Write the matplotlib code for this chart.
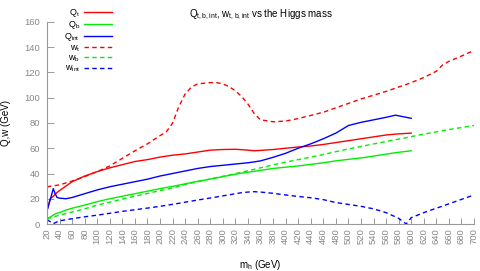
import numpy as np
import matplotlib
matplotlib.use("Agg")
import matplotlib.pyplot as plt

plt.rcParams['font.family'] = ['Liberation Sans', 'DejaVu Sans']
plt.rcParams['mathtext.default'] = 'regular'

# Higgs mass points (GeV) for the Q curves (stop at 600)
mh_q = [20, 25, 30, 33, 36, 40, 50, 60, 80, 100, 120, 140, 160, 180, 200, 220, 240, 260, 280,
        300, 320, 340, 350, 360, 380, 400, 420, 440, 460, 480, 500, 520, 540, 560, 575, 600]
q_t = [10.5, 20, 22, 23.5, 25, 26.5, 30, 33.5, 38, 41.5, 44.5, 47, 49.5, 51, 53, 54.5, 55.5, 57, 58.5,
       59, 59.2, 58.5, 58, 58.3, 59, 60, 61, 61.8, 63, 64.5, 66, 67.5, 69, 70.5, 71.2, 72]
q_b = [4, 5.5, 7, 8, 8.5, 9, 11, 12.5, 15, 17.7, 20, 22, 24, 26, 28, 29.8, 31.8, 33.8, 35.6,
       37.5, 39.5, 41, 41.7, 42.5, 44, 45, 46, 47.2, 48.5, 50, 51.2, 52.3, 53.8, 55.3, 56.5, 58]
q_int = [10.5, 19, 28, 24, 21, 20.5, 20, 21, 24, 27, 29.5, 31.5, 33.5, 35.5, 38, 40, 42, 44, 45.5,
         46.5, 47.5, 48.5, 49.2, 50, 52.8, 56, 60, 63.5, 67.5, 72, 78, 80.5, 82.5, 84.5, 86.2, 83.7]

# Higgs mass points (GeV) for the w curves (run to 700)
mh_w = [20, 30, 40, 60, 80, 100, 120, 140, 160, 180, 200, 210, 220, 230, 240, 250, 260, 280, 290,
        300, 310, 320, 330, 340, 350, 360, 380, 400, 420, 440, 460, 480, 500, 520, 540, 560, 580,
        592, 600, 620, 640, 650, 660, 680, 700]
w_t = [29.5, 30.2, 31, 34, 37.5, 41.5, 46, 52, 58, 63.5, 70, 73, 80, 93, 103, 108.5, 111, 112, 112,
       111, 108.8, 105.5, 101, 95, 87.5, 82.5, 81, 81.5, 83.5, 86, 88.5, 92, 95.5, 99, 102, 105, 108.5,
       110.5, 112, 116, 121, 126, 128.8, 133, 137.5]
w_b = [4, 5.5, 7, 9.5, 12, 15, 17.3, 19.7, 22, 24.2, 26.5, 27.5, 28.5, 29.8, 31.3, 32.4, 33.5, 35.7, 36.8,
       37.8, 38.8, 39.9, 41, 42.2, 43.3, 44.5, 46.8, 49, 51, 53, 55, 57.3, 59.4, 61.4, 63.4, 65.3, 67.3,
       68.4, 69.2, 71.2, 73, 73.9, 74.8, 76.4, 78]
w_int = [3.5, 0.3, 2.5, 4.2, 5.7, 7, 8.5, 10, 11.3, 12.6, 14, 14.8, 15.6, 16.4, 17.3, 18.1, 19, 20.6, 21.4,
         22.3, 23.1, 24, 24.8, 25.3, 25.6, 25.3, 24.3, 23, 21.8, 20.8, 19.3, 17, 15.5, 14, 12, 9, 4.5,
         0, 5, 9, 12.5, 14.2, 16, 19.5, 23]

xticks = np.arange(20, 701, 20)
yticks = np.arange(0, 161, 20)

fig = plt.figure(figsize=(4.81, 2.71), dpi=100)
ax = fig.add_axes([47 / 481, 1 - 224 / 271, 427 / 481, 202 / 271])

dash = (0, (3.2, 2.4))
ax.plot(mh_q, q_t, color='#ff0000', lw=1.0, label='$Q_t$')
ax.plot(mh_q, q_b, color='#00ee00', lw=1.0, label='$Q_b$')
ax.plot(mh_q, q_int, color='#0000ff', lw=1.0, label='$Q_{int}$')
ax.plot(mh_w, w_t, color='#ff0000', lw=1.0, ls=dash, label='$w_t$')
ax.plot(mh_w, w_b, color='#00ee00', lw=1.0, ls=dash, label='$w_b$')
ax.plot(mh_w, w_int, color='#0000ff', lw=1.0, ls=dash, label='$w_{int}$')

ax.set_xlim(20, 700)
ax.set_ylim(0, 160)
ax.set_xticks(xticks)
ax.set_yticks(yticks)
ax.tick_params(axis='x', direction='in', length=4, width=0.7, color='#999999',
               labelcolor='#888888', labelsize=6.8, labelrotation=90, pad=3)
ax.tick_params(axis='y', direction='in', length=5, width=0.7, color='#999999',
               labelcolor='#888888', labelsize=6.8, pad=5)

for side in ['top', 'right']:
    ax.spines[side].set_visible(False)
for side in ['left', 'bottom']:
    ax.spines[side].set_linestyle((0, (3, 1, 1, 1)))
    ax.spines[side].set_color('#999999')
    ax.spines[side].set_linewidth(0.8)

ax.set_title('$Q_{t,b,int}$, $w_{t,b,int}$ vs the Higgs mass', fontsize=7, pad=0)
ax.title.set_y(1.09)

ax.set_xlabel('$m_h$ (GeV)', fontsize=7)
ax.xaxis.set_label_coords(0.5, -0.17)
ax.set_ylabel('Q,w (GeV)', fontsize=7)
ax.yaxis.set_label_coords(-0.085, 0.5)

ax.legend(loc='upper right', bbox_to_anchor=(112 / 481, 1 - 7 / 271),
          bbox_transform=fig.transFigure, frameon=False, markerfirst=False,
          fontsize=6.5, handlelength=3.1, handletextpad=0.45, labelspacing=0.0,
          borderpad=0, borderaxespad=0)

fig.savefig('out.png', dpi=100)
